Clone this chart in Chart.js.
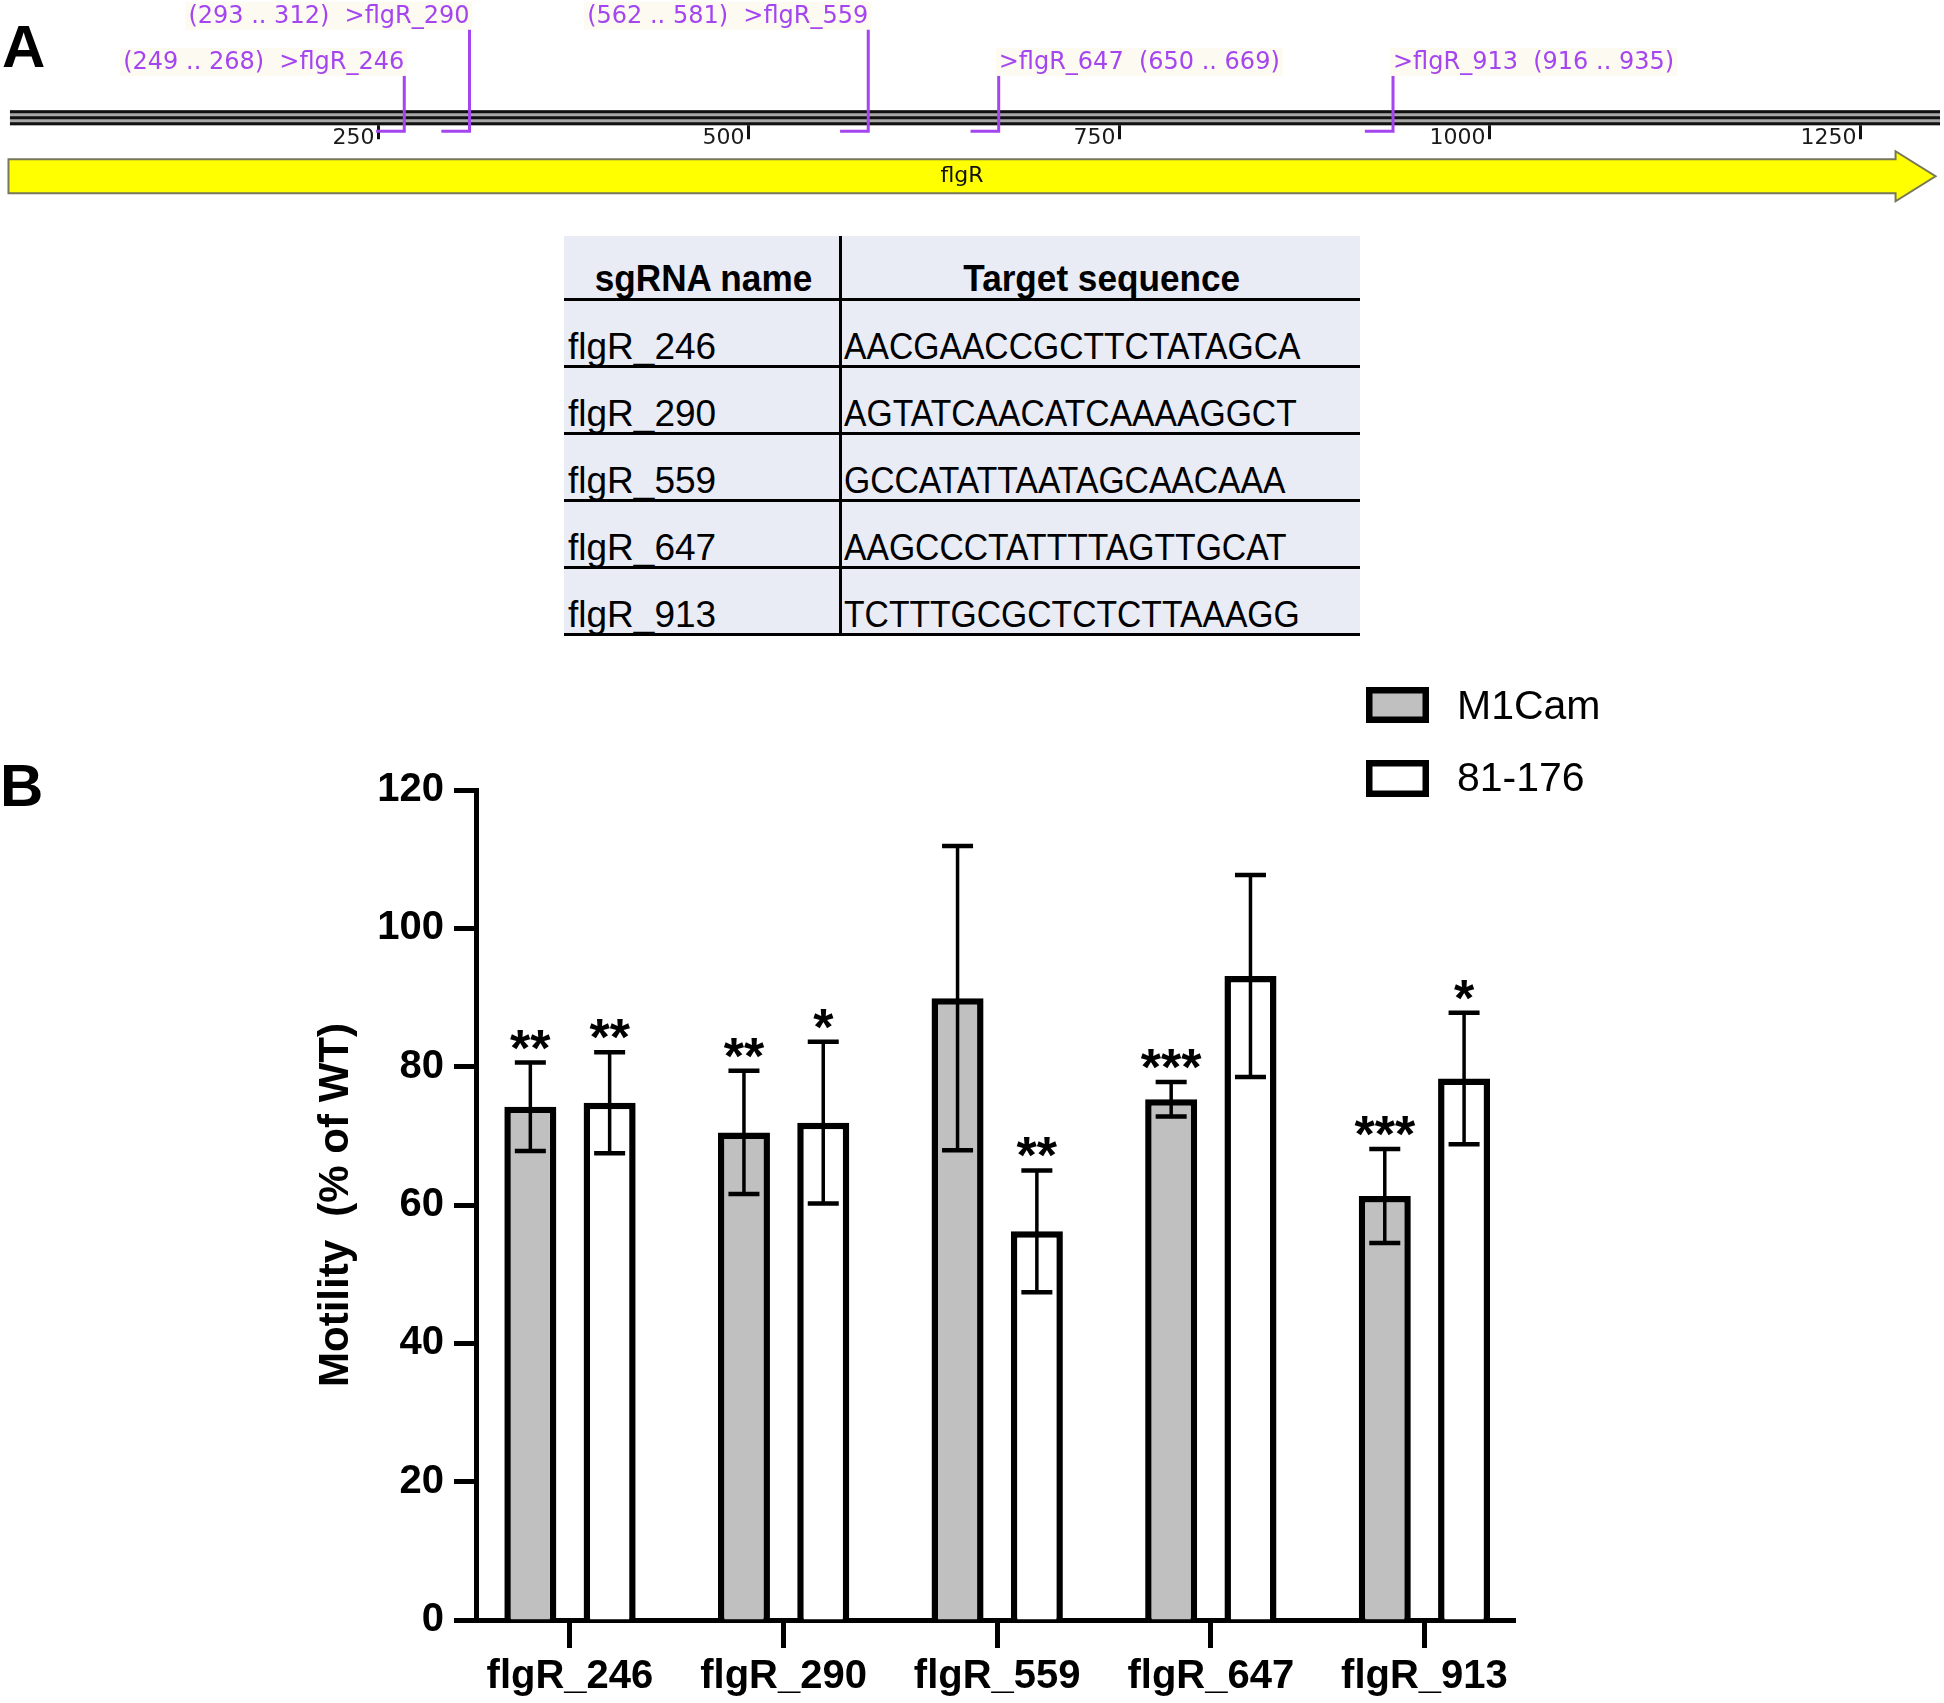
<!DOCTYPE html>
<html>
<head>
<meta charset="utf-8">
<title>flgR sgRNA motility</title>
<script src="https://cdn.jsdelivr.net/npm/chart.js@4.4.0/dist/chart.umd.min.js"></script>
<style>
html, body { margin: 0; padding: 0; background: #fff; }
body { width: 1944px; height: 1703px; position: relative; overflow: hidden; font-family: "Liberation Sans", Arial, sans-serif; }
.panel { position: absolute; font-weight: bold; font-size: 60px; line-height: 60px; color: #000; }
#mapCanvas { position: absolute; left: 0; top: 0; }
#barCanvas { position: absolute; left: 0; top: 660px; }
#sgTable { position: absolute; left: 564px; top: 236px; width: 796px; display: grid;
  grid-template-columns: 278px 518px; grid-template-rows: 65px repeat(5, 67px); background: #e9ebf5; }
#sgTable div { box-sizing: border-box; border-bottom: 3px solid #000; display: flex; align-items: flex-end;
  font-size: 37px; line-height: 37px; white-space: nowrap; color: #000; }
#sgTable .c1 { border-right: 3px solid #000; padding-left: 4px; }
#sgTable .c2 { padding-left: 2px; }
#sgTable .hd { font-weight: bold; justify-content: center; padding-bottom: 1px; }
#sgTable span { display: inline-block; }
#sgTable .hd span { transform: scaleX(0.95); }
#sgTable .seq span { transform: scaleX(0.91); transform-origin: left center; }
</style>
</head>
<body>
<div class="panel" style="left:2px; top:17px;">A</div>
<div class="panel" style="left:0px; top:756px;">B</div>
<canvas id="mapCanvas" width="1944" height="210"></canvas>
<div id="sgTable"></div>
<canvas id="barCanvas" width="1944" height="1043"></canvas>
<script>
// sgRNAs along flgR
const categories = ['flgR_246', 'flgR_290', 'flgR_559', 'flgR_647', 'flgR_913'];
const sgStart = [249, 293, 562, 650, 916];
const sgEnd = [268, 312, 581, 669, 935];
const targetSeqs = [
    'AACGAACCGCTTCTATAGCA',
    'AGTATCAACATCAAAAGGCT',
    'GCCATATTAATAGCAACAAA',
    'AAGCCCTATTTTAGTTGCAT',
    'TCTTTGCGCTCTCTTAAAGG'
];
const mapTicks = [250, 500, 750, 1000, 1250];
const seqLength = 1304;
const geneName = 'flgR';
const geneStart = 1;
const geneEnd = 1301;

// motility (% of WT), mean and error
const seriesNames = ['M1Cam', '81-176'];
const m1camMean = [74.2, 70.5, 89.9, 75.3, 61.3];
const m1camErr = [6.4, 8.9, 22.0, 2.5, 6.8];
const strainMean = [74.8, 71.9, 56.2, 93.1, 78.3];
const strainErr = [7.3, 11.7, 8.8, 14.6, 9.5];
const m1camStars = ['**', '**', '', '***', '***'];
const strainStars = ['**', '*', '**', '', '*'];
const yTicks = [0, 20, 40, 60, 80, 100, 120];

Chart.defaults.font.family = '"Liberation Sans", Arial, sans-serif';
Chart.defaults.color = '#000';

// ---------- panel A map ----------
const purple = '#a445f0';
const stemLevel = [1.12, 2, 2, 1.12, 1.12]; // which label row each sgRNA uses
const labelSide = ['left', 'left', 'left', 'right', 'right'];

const mapPlugin = {
    id: 'seqMap',
    beforeDatasetsDraw(chart) {
        const ctx = chart.ctx;
        const xs = chart.scales.x, ys = chart.scales.y;
        const base = ys.getPixelForValue(0);
        const bandTop = base - 21;
        const bandBottom = base - 6;
        const x0 = xs.getPixelForValue(2), x1 = xs.getPixelForValue(seqLength);
        ctx.save();
        // backbone
        ctx.fillStyle = '#a8a8a8';
        ctx.fillRect(x0, bandTop, x1 - x0, bandBottom - bandTop);
        ctx.fillStyle = '#111';
        ctx.fillRect(x0, bandTop, x1 - x0, 3);
        ctx.fillRect(x0, bandTop + 6, x1 - x0, 3);
        ctx.fillRect(x0, bandBottom - 3, x1 - x0, 3);
        // ruler
        ctx.strokeStyle = '#111';
        ctx.lineWidth = 3;
        ctx.font = '22px "DejaVu Sans"';
        ctx.fillStyle = '#1a1a1a';
        ctx.textAlign = 'right';
        ctx.textBaseline = 'middle';
        mapTicks.forEach(t => {
            const px = Math.round(xs.getPixelForValue(t)) + 0.5;
            ctx.beginPath();
            ctx.moveTo(px, bandBottom);
            ctx.lineTo(px, bandBottom + 14);
            ctx.stroke();
            ctx.fillText(String(t), px - 4, bandBottom + 13.5);
        });
        // gene arrow
        const gx0 = xs.getPixelForValue(geneStart), gx1 = xs.getPixelForValue(geneEnd);
        const cy = base + 45;
        const headX = gx1 - 40;
        ctx.beginPath();
        ctx.moveTo(gx0, cy - 17);
        ctx.lineTo(headX, cy - 17);
        ctx.lineTo(headX, cy - 25);
        ctx.lineTo(gx1, cy);
        ctx.lineTo(headX, cy + 25);
        ctx.lineTo(headX, cy + 17);
        ctx.lineTo(gx0, cy + 17);
        ctx.closePath();
        ctx.fillStyle = '#ffff00';
        ctx.fill();
        ctx.strokeStyle = '#77775a';
        ctx.lineWidth = 2;
        ctx.stroke();
        ctx.fillStyle = '#111';
        ctx.textAlign = 'center';
        ctx.font = '22px "DejaVu Sans"';
        ctx.fillText(geneName, xs.getPixelForValue((geneStart + geneEnd) / 2) - 10, cy);
        ctx.restore();
    },
    afterDatasetsDraw(chart) {
        const ctx = chart.ctx;
        const xs = chart.scales.x, ys = chart.scales.y;
        ctx.save();
        ctx.font = '24px "DejaVu Sans"';
        ctx.textBaseline = 'middle';
        categories.forEach((name, i) => {
            const sx = xs.getPixelForValue(sgEnd[i]);
            const ty = ys.getPixelForValue(stemLevel[i]) - 9.5;
            const range = '(' + sgStart[i] + ' .. ' + sgEnd[i] + ')';
            const txt = (labelSide[i] === 'left') ? range + '  >' + name : '>' + name + '  ' + range;
            const w = ctx.measureText(txt).width;
            const left = (labelSide[i] === 'left') ? sx - w : sx;
            ctx.fillStyle = '#fcfaf1';
            ctx.fillRect(left - 3, ty - 15, w + 6, 28);
            ctx.fillStyle = purple;
            ctx.textAlign = 'left';
            ctx.fillText(txt, left, ty);
        });
        ctx.restore();
    }
};

const mapChart = new Chart(document.getElementById('mapCanvas'), {
    type: 'line',
    data: {
        datasets: categories.map((name, i) => ({
            label: name,
            data: [{x: sgStart[i], y: 0}, {x: sgEnd[i], y: 0}, {x: sgEnd[i], y: stemLevel[i]}],
            borderColor: purple,
            borderWidth: 3,
            pointRadius: 0,
            tension: 0,
            fill: false,
            clip: false
        }))
    },
    options: {
        responsive: false,
        animation: false,
        devicePixelRatio: 1,
        layout: {padding: {left: 7, right: 4, top: 0, bottom: 0}},
        plugins: {legend: {display: false}, tooltip: {enabled: false}},
        scales: {
            x: {type: 'linear', min: 0, max: seqLength, display: false},
            y: {type: 'linear', min: -1.5, max: 2.5, display: false}
        }
    },
    plugins: [mapPlugin]
});

// ---------- table ----------
const tbl = document.getElementById('sgTable');
function addCell(cls, text) {
    const d = document.createElement('div');
    d.className = cls;
    const s = document.createElement('span');
    s.textContent = text;
    d.appendChild(s);
    tbl.appendChild(d);
}
addCell('c1 hd', 'sgRNA name');
addCell('c2 hd', 'Target sequence');
categories.forEach((n, i) => {
    addCell('c1', n);
    addCell('c2 seq', targetSeqs[i]);
});

// ---------- panel B bars ----------
const errorBarPlugin = {
    id: 'errorBars',
    afterDatasetsDraw(chart) {
        const ctx = chart.ctx;
        const y = chart.scales.y;
        const means = [m1camMean, strainMean];
        const errs = [m1camErr, strainErr];
        const stars = [m1camStars, strainStars];
        ctx.save();
        ctx.strokeStyle = '#000';
        chart.data.datasets.forEach((ds, d) => {
            chart.getDatasetMeta(d).data.forEach((bar, i) => {
                const hi = y.getPixelForValue(means[d][i] + errs[d][i]);
                const lo = y.getPixelForValue(means[d][i] - errs[d][i]);
                ctx.lineWidth = 3.5;
                ctx.beginPath();
                ctx.moveTo(bar.x, hi);
                ctx.lineTo(bar.x, lo);
                ctx.stroke();
                ctx.lineWidth = 4.5;
                ctx.beginPath();
                ctx.moveTo(bar.x - 15.5, hi);
                ctx.lineTo(bar.x + 15.5, hi);
                ctx.moveTo(bar.x - 15.5, lo);
                ctx.lineTo(bar.x + 15.5, lo);
                ctx.stroke();
                const s = stars[d][i];
                if (s) {
                    ctx.font = 'bold 52px "Liberation Sans"';
                    ctx.fillStyle = '#000';
                    ctx.textAlign = 'center';
                    ctx.textBaseline = 'alphabetic';
                    const m = ctx.measureText(s);
                    const c = (m.actualBoundingBoxAscent - m.actualBoundingBoxDescent) / 2;
                    ctx.fillText(s, bar.x, hi - 23 + c);
                }
            });
        });
        ctx.restore();
    }
};

const legendPlugin = {
    id: 'boxLegend',
    afterDraw(chart) {
        const ctx = chart.ctx;
        const rows = [{top: 27, h: 36, ty: 47.5}, {top: 100, h: 37, ty: 120}];
        ctx.save();
        chart.data.datasets.forEach((ds, d) => {
            const r = rows[d];
            ctx.fillStyle = ds.backgroundColor;
            ctx.fillRect(1366, r.top, 63, r.h);
            ctx.strokeStyle = '#000';
            ctx.lineWidth = 6.5;
            ctx.strokeRect(1366 + 3.25, r.top + 3.25, 63 - 6.5, r.h - 6.5);
            ctx.fillStyle = '#000';
            ctx.font = '41px "Liberation Sans"';
            ctx.textAlign = 'left';
            ctx.textBaseline = 'middle';
            ctx.fillText(ds.label, 1457, r.ty);
        });
        ctx.restore();
    }
};

const tickFont = {family: '"Liberation Sans"', size: 40, weight: 'bold'};

const barChart = new Chart(document.getElementById('barCanvas'), {
    type: 'bar',
    data: {
        datasets: [
            {
                label: seriesNames[0],
                data: m1camMean.map((v, i) => ({x: i + 1, y: v})),
                backgroundColor: '#c0c0c0',
                borderColor: '#000',
                borderWidth: 6.5,
                categoryPercentage: 0.7425,
                barPercentage: 0.656
            },
            {
                label: seriesNames[1],
                data: strainMean.map((v, i) => ({x: i + 1, y: v})),
                backgroundColor: '#ffffff',
                borderColor: '#000',
                borderWidth: 6.5,
                categoryPercentage: 0.7425,
                barPercentage: 0.656
            }
        ]
    },
    options: {
        responsive: false,
        animation: false,
        devicePixelRatio: 1,
        layout: {padding: {top: 130, right: 429, bottom: 0, left: 0}},
        plugins: {legend: {display: false}, tooltip: {enabled: false}},
        scales: {
            x: {
                type: 'linear',
                min: 0.56,
                max: 5.424,
                offset: false,
                afterBuildTicks: s => { s.ticks = categories.map((c, i) => ({value: i + 1})); },
                afterFit: s => { s.height = 83; },
                grid: {display: true, offset: false, drawOnChartArea: false, drawTicks: true,
                       tickLength: 28, tickWidth: 5, tickColor: '#000', color: '#000'},
                border: {display: true, width: 5, color: '#000'},
                ticks: {callback: v => categories[v - 1], font: tickFont, color: '#000',
                        padding: 5, maxRotation: 0, autoSkip: false}
            },
            y: {
                type: 'linear',
                min: 0,
                max: 120,
                afterBuildTicks: s => { s.ticks = yTicks.map(v => ({value: v})); },
                afterFit: s => { s.width = 476; },
                grid: {display: true, drawOnChartArea: false, drawTicks: true,
                       tickLength: 22, tickWidth: 5, tickColor: '#000', color: '#000'},
                border: {display: true, width: 5, color: '#000'},
                ticks: {font: tickFont, color: '#000', padding: 10},
                title: {display: true, text: 'Motility  (% of WT)', color: '#000',
                        font: {family: '"Liberation Sans"', size: 42, weight: 'bold'},
                        padding: {top: 311, bottom: 0}}
            }
        }
    },
    plugins: [errorBarPlugin, legendPlugin]
});
</script>
</body>
</html>
